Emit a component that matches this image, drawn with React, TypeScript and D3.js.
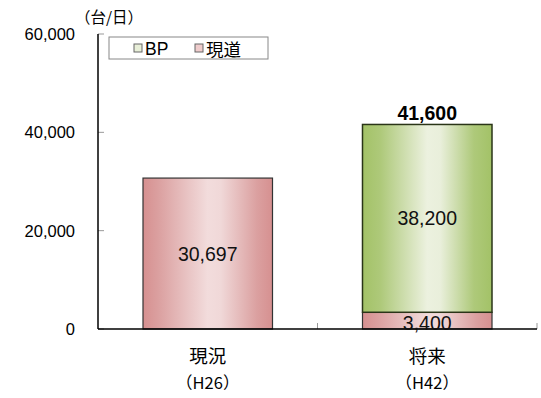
import React from "react";
import * as d3 from "d3";

const categories = ["現況", "将来"];
const subLabels = ["（H26）", "（H42）"];
const genroValues = [30697, 3400];
const bpValues = [0, 38200];
const totalLabels = ["", "41,600"];
const yTicks = [0, 20000, 40000, 60000];
const seriesNames = ["BP", "現道"];
const unitLabel = "（台/日）";

const W = 541, H = 398;
const left = 98, right = 537, top = 34, bottom = 329;
const FONT = "'Liberation Sans', Arial, 'Noto Sans CJK JP', sans-serif";
const JFONT = "'Noto Sans CJK JP', 'Liberation Sans', sans-serif";

export default function App() {
  const x = d3.scaleBand<string>().domain(categories).range([left, right]).paddingInner(0.41).paddingOuter(0.205);
  const y = d3.scaleLinear().domain([0, 60000]).range([bottom, top]);
  const fmt = d3.format(",");
  const bw = x.bandwidth();
  const step = x.step();
  return (
    <svg width={W} height={H} style={{ position: "absolute", left: 0, top: 0, background: "#fff" }}>
      <defs>
        <linearGradient id="gPink" x1="0" x2="1" y1="0" y2="0">
          <stop offset="0" stopColor="#d69090" />
          <stop offset="0.12" stopColor="#dba0a0" />
          <stop offset="0.5" stopColor="#f2dcdc" />
          <stop offset="0.6" stopColor="#f0d8d8" />
          <stop offset="0.88" stopColor="#dba0a0" />
          <stop offset="1" stopColor="#d69090" />
        </linearGradient>
        <linearGradient id="gGreen" x1="0" x2="1" y1="0" y2="0">
          <stop offset="0" stopColor="#a3c267" />
          <stop offset="0.14" stopColor="#aec97a" />
          <stop offset="0.5" stopColor="#ecf1df" />
          <stop offset="0.6" stopColor="#e9efdb" />
          <stop offset="0.86" stopColor="#aec97a" />
          <stop offset="1" stopColor="#a3c267" />
        </linearGradient>
      </defs>
      {/* y ticks (inside, gray) */}
      {yTicks.map((t) => (
        <g key={t}>
          <line x1={left} x2={left + 6} y1={y(t)} y2={y(t)} stroke="#999" strokeWidth={1} />
          <text x={75} y={y(t)} textAnchor="end" dominantBaseline="central" fontFamily={FONT} fontSize={16.5} fill="#000">
            {fmt(t)}
          </text>
        </g>
      ))}
      {/* x category boundary ticks */}
      {categories.map((c, i) => (
        <line key={c} x1={left + step * (i + 1)} x2={left + step * (i + 1)} y1={bottom} y2={bottom - 6} stroke="#999" strokeWidth={1} />
      ))}
      {/* bars */}
      {categories.map((c, i) => (
        <g key={c}>
          <rect x={x(c)} y={y(genroValues[i])} width={bw} height={bottom - y(genroValues[i])} fill="url(#gPink)" stroke="#333" strokeWidth={1.2} />
          {bpValues[i] > 0 && (
            <rect x={x(c)} y={y(genroValues[i] + bpValues[i])} width={bw} height={y(genroValues[i]) - y(genroValues[i] + bpValues[i])} fill="url(#gGreen)" stroke="#2a3518" strokeWidth={1.5} />
          )}
        </g>
      ))}
      {/* axes */}
      <line x1={left} x2={left} y1={top} y2={bottom} stroke="#000" strokeWidth={1.5} />
      <line x1={left} x2={right} y1={bottom} y2={bottom} stroke="#000" strokeWidth={1.5} />
      {/* value labels */}
      {categories.map((c, i) => {
        const cx = (x(c) as number) + bw / 2;
        return (
          <g key={c} fontFamily={FONT} fontSize={19.5} fill="#111" textAnchor="middle">
            <text x={cx} y={(y(genroValues[i]) + bottom) / 2 + (bpValues[i] > 0 ? 2 : 0)} dominantBaseline="central">
              {fmt(genroValues[i])}
            </text>
            {bpValues[i] > 0 && (
              <text x={cx} y={(y(genroValues[i]) + y(genroValues[i] + bpValues[i])) / 2} dominantBaseline="central">
                {fmt(bpValues[i])}
              </text>
            )}
            {totalLabels[i] && (
              <text x={cx} y={y(genroValues[i] + bpValues[i]) - 11} dominantBaseline="central" fontWeight="bold" fill="#000">
                {totalLabels[i]}
              </text>
            )}
          </g>
        );
      })}
      {/* category labels */}
      {categories.map((c, i) => {
        const cx = (x(c) as number) + bw / 2;
        return (
          <g key={c} textAnchor="middle" fill="#000">
            <text x={cx} y={355} dominantBaseline="central" fontFamily={JFONT} fontSize={18.5}>{c}</text>
            <text x={cx} y={382} dominantBaseline="central" fontFamily={JFONT} fontSize={16.5}>{subLabels[i]}</text>
          </g>
        );
      })}
      {/* unit */}
      <text x={109} y={16} textAnchor="middle" dominantBaseline="central" fontFamily={JFONT} fontSize={15.5} fill="#000">{unitLabel}</text>
      {/* legend */}
      <g>
        <rect x={109} y={37} width={159} height={22} fill="#fff" stroke="#888" strokeWidth={1} />
        {seriesNames.map((s, i) => {
          const lx = i === 0 ? 134 : 195;
          return (
            <g key={s}>
              <rect x={lx} y={44} width={8} height={8} fill={i === 0 ? "#e8efd8" : "#efcccc"} stroke="#666" strokeWidth={1} />
              <text x={lx + 11} y={48.5} dominantBaseline="central" fontFamily={i === 0 ? FONT : JFONT} fontSize={17.5} fill="#000">{s}</text>
            </g>
          );
        })}
      </g>
    </svg>
  );
}
